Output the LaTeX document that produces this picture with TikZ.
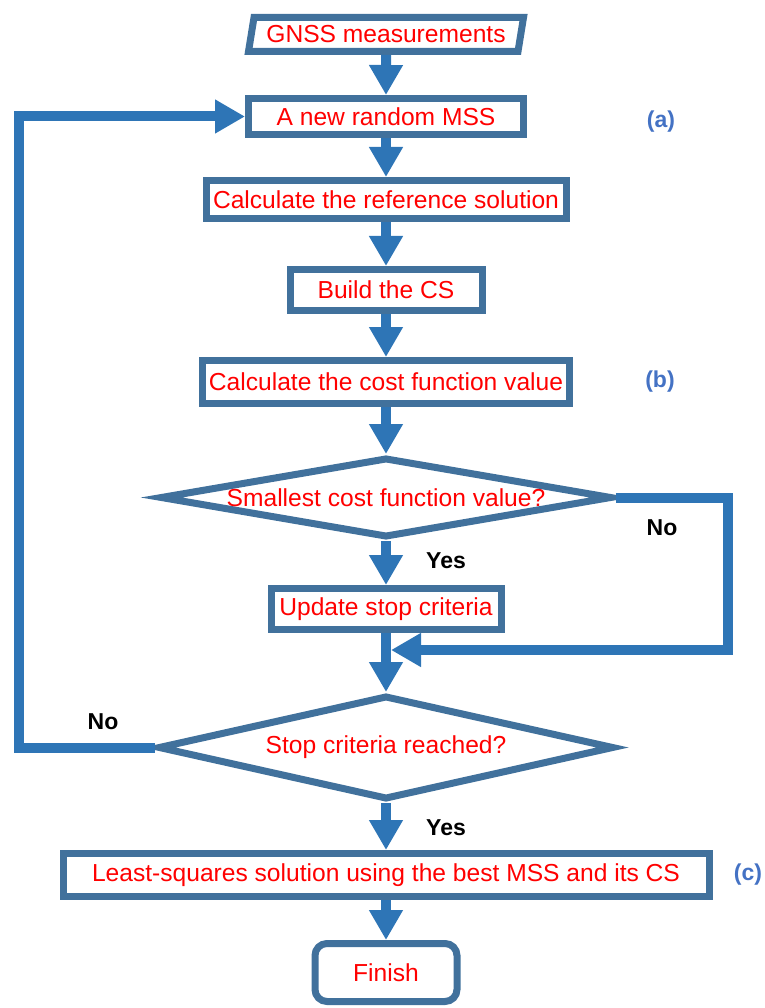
\documentclass[tikz,border=0pt]{standalone}
\usepackage{fontspec}
\setmainfont{Liberation Sans}
\usetikzlibrary{shapes.geometric,arrows.meta}
\definecolor{boxblue}{RGB}{65,113,156}
\definecolor{flowblue}{RGB}{46,117,182}
\definecolor{tagblue}{RGB}{68,114,196}

\begin{document}
\begin{tikzpicture}
            \tikzstyle{box} = [rectangle, draw=boxblue, line width=7pt, fill=white, inner sep=0pt, text=red, font=\fontsize{24.6}{28}\selectfont, align=center]
            \tikzstyle{io} = [box, trapezium, trapezium left angle=74, trapezium right angle=106, trapezium stretches=true]
            \tikzstyle{decision} = [box, diamond]
            \tikzstyle{finishbox} = [box, rounded corners=12pt]
            \tikzstyle{answer} = [font=\bfseries\fontsize{23}{27}\selectfont]
            \tikzstyle{tag} = [answer, text=tagblue]
            \tikzstyle{arrow} = [line width=10pt, draw=flowblue, -{Triangle[width=32pt,length=30pt]}]

            \useasboundingbox (0,0) rectangle (764pt,-1008pt);

            % Nodes
            \node (gnss) [io, minimum width=276pt, minimum height=34pt] at (386pt,-34.5pt) {GNSS measurements};
            \node (rand) [box, below of=gnss, node distance=82pt, minimum width=275pt, minimum height=36pt] {A new random MSS};
            \node (ref) [box, below of=rand, node distance=83pt, minimum width=360pt, minimum height=38pt] {Calculate the reference solution};
            \node (cs) [box, below of=ref, node distance=90.5pt, minimum width=192pt, minimum height=41pt] {Build the CS};
            \node (cost) [box, below of=cs, node distance=92pt, minimum width=367pt, minimum height=43pt] {Calculate the cost function value};
            \node (dia1) [decision, below of=cost, node distance=115.5pt, aspect=5.7, minimum width=452pt, minimum height=80pt] {Smallest cost function value?};
            \node (upd) [box, below of=dia1, node distance=111.5pt, minimum width=230pt, minimum height=41pt] {Update stop criteria};
            \node (merge) [coordinate, below of=upd, node distance=41pt] {};
            \node (dia2) [decision, below of=upd, node distance=138.5pt, aspect=4.4, minimum width=456pt, minimum height=104pt] {Stop criteria reached?};
            \node (lsq) [box, below of=dia2, node distance=127.5pt, minimum width=646pt, minimum height=43pt] {Least-squares solution using the best MSS and its CS};
            \node (fin) [finishbox, below of=lsq, node distance=97.5pt, minimum width=142pt, minimum height=58pt] {Finish};

            % Labels
            \node (yes1) [answer, below of=dia1, node distance=63.5pt, xshift=60pt] {Yes};
            \node (no1) [answer, right of=dia1, node distance=276pt, yshift=-30.5pt] {No};
            \node (yes2) [answer, below of=dia2, node distance=80.5pt, xshift=60pt] {Yes};
            \node (no2) [answer, left of=dia2, node distance=283pt, yshift=25.5pt] {No};
            \node (taga) [tag, right of=rand, node distance=275pt, yshift=-5pt] {(a)};
            \node (tagb) [tag, right of=cost, node distance=274pt] {(b)};
            \node (tagc) [tag, right of=lsq, node distance=362pt] {(c)};

            % Arrows
            \draw [arrow] (gnss) -- (rand);
            \draw [arrow] (rand) -- (ref);
            \draw [arrow] (ref) -- (cs);
            \draw [arrow] (cs) -- (cost);
            \draw [arrow] (cost) -- (dia1);
            \draw [arrow] (dia1) -- (upd);
            \draw [arrow] (upd) -- (dia2);
            \draw [arrow] (dia1.east) -- ++(112pt,0) |- ([xshift=5pt]merge);
            \draw [arrow] (dia2.west) -- ++(-136pt,0) |- (rand.west);
            \draw [arrow] (dia2) -- (lsq);
            \draw [arrow] (lsq) -- (fin);
        \end{tikzpicture}
\end{document}
